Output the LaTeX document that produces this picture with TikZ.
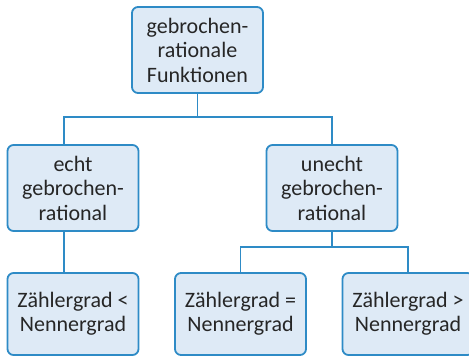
\documentclass[tikz,border=0pt]{standalone}
\usepackage{fontspec}
\setmainfont{Carlito}
\usepackage{xcolor}
\definecolor{boxline}{HTML}{2E8BC6}
\definecolor{boxfill}{HTML}{DEEAF6}
\definecolor{boxtext}{HTML}{262626}

\begin{document}
\begin{tikzpicture}[x=1pt,y=-1pt,
  box/.style={draw=boxline,line width=1.8pt,fill=boxfill,rounded corners=6pt,
    minimum width=131pt,align=center,text=boxtext,
    font=\fontsize{22}{24.5}\selectfont,inner sep=0pt},
  mbox/.style={box,minimum height=86pt},
  lbox/.style={box,minimum height=82pt},
  link/.style={draw=boxline,line width=1.5pt}]
\useasboundingbox (0,0) rectangle (469,356);
\node[mbox] (top) at (197.5,50) {gebrochen-\\rationale\\Funktionen};
\node[mbox] (echt) at (73,188) {echt\\gebrochen-\\rational};
\node[mbox] (unecht) at (332,188) {unecht\\gebrochen-\\rational};
\node[lbox] (kleiner) at (73,314) {Zählergrad <\\Nennergrad};
\node[lbox] (gleich) at (240.5,314) {Zählergrad =\\Nennergrad};
\node[lbox] (groesser) at (408,314) {Zählergrad >\\Nennergrad};
\coordinate (j1) at (197.5,117);
\coordinate (j2) at (332,247);
\draw[link] (top) -- (j1);
\draw[link] (j1) -| ([xshift=-9pt]echt.north);
\draw[link] (j1) -| (unecht);
\draw[link] ([xshift=-9pt]echt.south) -- ([xshift=-9pt]kleiner.north);
\draw[link] (unecht) -- (j2);
\draw[link] (j2) -| (gleich);
\draw[link] (j2) -| (groesser);
\end{tikzpicture}
\end{document}
